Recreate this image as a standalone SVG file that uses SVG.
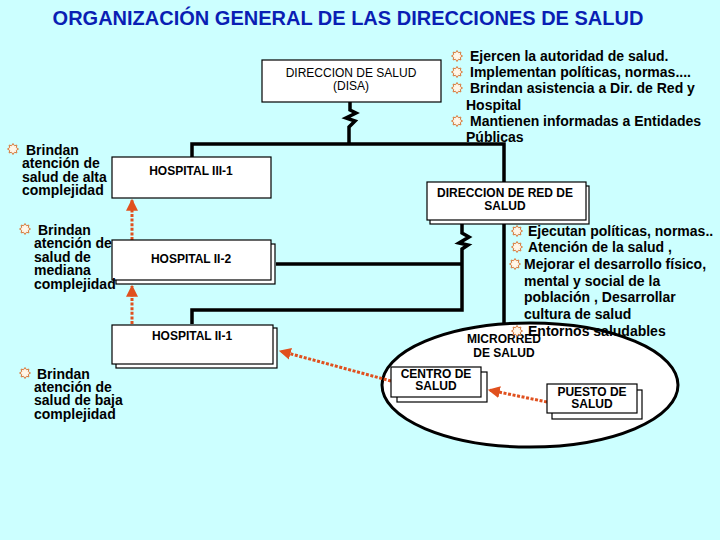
<svg xmlns="http://www.w3.org/2000/svg" width="720" height="540" viewBox="0 0 720 540">
<defs>
<style>
.box{fill:#fff;stroke:#000;stroke-width:1.2}
.lbl{font-family:"Liberation Sans",Arial,sans-serif;font-size:12px;font-weight:bold;fill:#000;text-anchor:middle}
.lblr{font-family:"Liberation Sans",Arial,sans-serif;font-size:12px;fill:#000;text-anchor:middle}
.txt{font-family:"Liberation Sans",Arial,sans-serif;font-size:14px;font-weight:bold;fill:#000}
.ln{fill:none;stroke:#000;stroke-width:3.5}
.arr{fill:none;stroke:#E0501E;stroke-width:3;stroke-dasharray:3 1.6}
.bul{fill:#FFF6E8;stroke:#D8783A;stroke-width:1}
</style>
<marker id="ah" viewBox="0 0 10 10" refX="9" refY="5" markerWidth="4" markerHeight="4" orient="auto" markerUnits="strokeWidth">
<path d="M0,0 L10,5 L0,10 z" fill="#E0501E"/>
</marker>
<polygon id="sun" class="bul" points="0,-5.5 1.4,-3.3 3.9,-3.9 3.3,-1.4 5.5,0 3.3,1.4 3.9,3.9 1.4,3.3 0,5.5 -1.4,3.3 -3.9,3.9 -3.3,1.4 -5.5,0 -3.3,-1.4 -3.9,-3.9 -1.4,-3.3"/>
</defs>
<rect width="720" height="540" fill="#CCFFFF"/>

<text x="348" y="25" font-family="'Liberation Sans',Arial,sans-serif" font-size="20" font-weight="bold" fill="#0A1EB4" text-anchor="middle">ORGANIZACIÓN GENERAL DE LAS DIRECCIONES DE SALUD</text>

<g id="microrred">
<ellipse cx="530" cy="385" rx="148" ry="62" fill="#fff" stroke="#000" stroke-width="3"/>
<text class="lbl" x="504" y="343">MICRORRED</text>
<text class="lbl" x="504" y="357">DE SALUD</text>
</g>

<g id="connectors">
<path class="ln" d="M350,102 V110 L356,113 L346,118 L355,121 L349,127 V144"/>
<path class="ln" d="M192,157 V144 H504 V182"/>
<path class="ln" d="M504,224 V323"/>
<path class="ln" d="M462,224 V233 L469,237 L459,243 L468,245 L462,249 V310 H192 V324"/>
<path class="ln" d="M276,264 H462"/>
<line class="arr" x1="132" y1="240" x2="132" y2="200" marker-end="url(#ah)"/>
<line class="arr" x1="132" y1="324" x2="132" y2="286" marker-end="url(#ah)"/>
<line class="arr" x1="391" y1="381" x2="280" y2="351" marker-end="url(#ah)"/>
<line class="arr" x1="547" y1="402" x2="489" y2="390" marker-end="url(#ah)"/>
</g>

<g id="disa">
<rect class="box" x="262" y="60" width="179" height="42"/>
<text class="lblr" x="351" y="77">DIRECCION DE SALUD</text>
<text class="lblr" x="351" y="90">(DISA)</text>
</g>

<g id="hospital-iii-1">
<rect class="box" x="112" y="157" width="159" height="41"/>
<text class="lbl" x="191" y="175">HOSPITAL III-1</text>
</g>

<g id="hospital-ii-2">
<rect class="box" x="116" y="244" width="159" height="40"/>
<rect class="box" x="112" y="240" width="159" height="40"/>
<text class="lbl" x="191" y="263">HOSPITAL  II-2</text>
</g>

<g id="hospital-ii-1">
<rect class="box" x="116" y="328" width="161" height="40"/>
<rect class="box" x="112" y="325" width="161" height="39"/>
<text class="lbl" x="192" y="340">HOSPITAL  II-1</text>
</g>

<g id="direccion-red">
<rect class="box" x="430" y="186" width="159" height="38"/>
<rect class="box" x="427" y="182" width="159" height="38"/>
<text class="lbl" x="505" y="197">DIRECCION  DE RED DE</text>
<text class="lbl" x="505" y="210">SALUD</text>
</g>

<g id="centro-salud">
<rect class="box" x="397" y="372" width="90" height="30"/>
<rect class="box" x="391" y="367" width="90" height="30"/>
<text class="lbl" x="436" y="378">CENTRO DE</text>
<text class="lbl" x="436" y="390">SALUD</text>
</g>

<g id="puesto-salud">
<rect class="box" x="552" y="390" width="90" height="29"/>
<rect class="box" x="547" y="384" width="90" height="29"/>
<text class="lbl" x="592" y="396">PUESTO DE</text>
<text class="lbl" x="592" y="408">SALUD</text>
</g>

<g id="texto-disa">
<use href="#sun" x="457" y="56"/>
<use href="#sun" x="457" y="72"/>
<use href="#sun" x="457" y="88"/>
<use href="#sun" x="457" y="121"/>
<text class="txt" x="470" y="61">Ejercen la autoridad de salud.</text>
<text class="txt" x="470" y="77">Implementan  políticas, normas....</text>
<text class="txt" x="470" y="93">Brindan asistencia a Dir. de Red y</text>
<text class="txt" x="466" y="110">Hospital</text>
<text class="txt" x="470" y="126">Mantienen informadas a Entidades</text>
<text class="txt" x="466" y="142">Públicas</text>
</g>

<g id="texto-alta">
<use href="#sun" x="13" y="149"/>
<text class="txt" x="26" y="155">Brindan</text>
<text class="txt" x="22" y="168">atención de</text>
<text class="txt" x="22" y="182">salud de alta</text>
<text class="txt" x="22" y="195">complejidad</text>
</g>

<g id="texto-mediana">
<use href="#sun" x="25" y="229"/>
<text class="txt" x="38" y="235">Brindan</text>
<text class="txt" x="34" y="248">atención de</text>
<text class="txt" x="34" y="262">salud de</text>
<text class="txt" x="34" y="275">mediana</text>
<text class="txt" x="34" y="289">complejidad</text>
</g>

<g id="texto-baja">
<use href="#sun" x="25" y="373"/>
<text class="txt" x="37" y="379">Brindan</text>
<text class="txt" x="34" y="392">atención de</text>
<text class="txt" x="34" y="405">salud de baja</text>
<text class="txt" x="34" y="419">complejidad</text>
</g>

<g id="texto-red">
<use href="#sun" x="517" y="231"/>
<use href="#sun" x="517" y="247"/>
<use href="#sun" x="515" y="264"/>
<use href="#sun" x="517" y="331"/>
<text class="txt" x="528" y="236">Ejecutan políticas, normas..</text>
<text class="txt" x="528" y="252">Atención de la salud ,</text>
<text class="txt" x="524" y="269">Mejorar el desarrollo físico,</text>
<text class="txt" x="524" y="286">mental y social de la</text>
<text class="txt" x="524" y="302">población , Desarrollar</text>
<text class="txt" x="524" y="319">cultura de salud</text>
<text class="txt" x="528" y="336">Entornos saludables</text>
</g>
</svg>
